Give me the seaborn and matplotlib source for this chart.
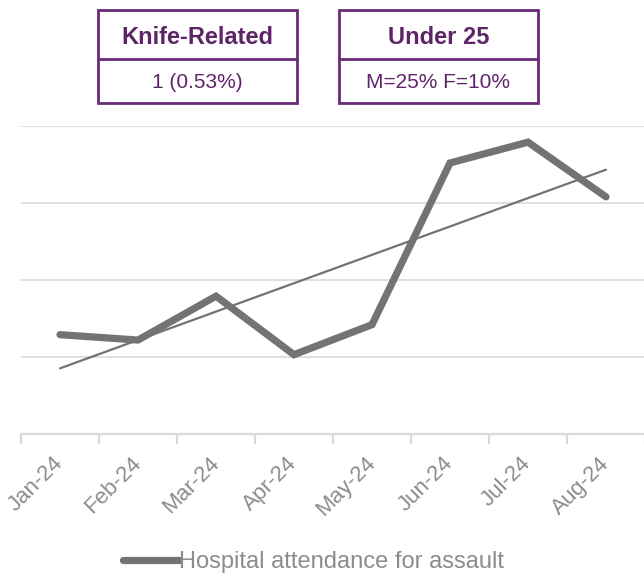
import matplotlib.pyplot as plt
import numpy as np
import pandas as pd
import seaborn as sns
from matplotlib.patches import Rectangle
from matplotlib.lines import Line2D

months = ["Jan-24", "Feb-24", "Mar-24", "Apr-24", "May-24", "Jun-24", "Jul-24", "Aug-24"]
attendance = [12.9, 12.2, 17.9, 10.3, 14.2, 35.2, 37.9, 30.8]
box_titles = ["Knife-Related", "Under 25"]
box_values = ["1 (0.53%)", "M=25% F=10%"]

df = pd.DataFrame({"pos": np.arange(len(months)), "month": months, "value": attendance})

sns.set_style("white")
plt.rcParams["font.family"] = ["Liberation Sans", "DejaVu Sans"]

W, H = 644, 577
fig = plt.figure(figsize=(W / 100, H / 100), dpi=100)
ax = fig.add_axes([21 / W, (H - 434) / H, 624 / W, (434 - 126) / H])

line_col = "#737373"
grid_col = "#d9d9d9"
purple = "#6b2a78"

sns.lineplot(data=df, x="pos", y="value", ax=ax, color=line_col, lw=5.2,
             solid_capstyle="round", solid_joinstyle="miter")
sns.regplot(data=df, x="pos", y="value", ax=ax, scatter=False, ci=None,
            line_kws={"color": line_col, "lw": 1.6})

ax.set_xlim(-0.5, len(months) - 0.5)
ax.set_ylim(0, 40)
ax.set_yticks([10, 20, 30, 40])
ax.yaxis.grid(True, color=grid_col, lw=1.2)
ax.set_yticklabels([])
ax.tick_params(axis="y", length=0)
for s in ["top", "right", "left"]:
    ax.spines[s].set_visible(False)
ax.spines["bottom"].set_color(grid_col)
ax.spines["bottom"].set_linewidth(1.6)
ax.set_axisbelow(True)

ax.set_xticks(df["pos"])
ax.set_xticklabels(months, rotation=45, ha="right", va="center",
                   rotation_mode="anchor", color="#8c8c8c", fontsize=16)
ax.set_xticks(np.arange(-0.5, len(months)), minor=True)
ax.tick_params(axis="x", which="major", length=0, pad=19)
ax.tick_params(axis="x", which="minor", bottom=True, length=7, width=1.6,
               color=grid_col, direction="out")
ax.set_xlabel("")
ax.set_ylabel("")

# legend
handle = Line2D([], [], color=line_col, lw=5.2, solid_capstyle="round")
fig.legend([handle], ["Hospital attendance for assault"], loc="center",
           bbox_to_anchor=(0.487, 1 - 562 / H), frameon=False,
           handlelength=2.4, handletextpad=0.0, fontsize=17,
           labelcolor="#8c8c8c")

# info boxes
box_left = [98, 339]
bw, top, mid, bot = 199, 10, 59, 103
for bx, t, v in zip(box_left, box_titles, box_values):
    fig.add_artist(Rectangle((bx / W, 1 - bot / H), bw / W, (bot - top) / H,
                             transform=fig.transFigure, fill=False,
                             ec=purple, lw=2))
    fig.add_artist(Line2D([bx / W, (bx + bw) / W], [1 - mid / H, 1 - mid / H],
                          transform=fig.transFigure, color=purple, lw=2))
    fig.text((bx + bw / 2) / W, 1 - 37 / H, t, ha="center", va="center",
             fontsize=17, fontweight="bold", color="#5e2468")
    fig.text((bx + bw / 2) / W, 1 - 82 / H, v, ha="center", va="center",
             fontsize=15, color="#5e2468")

fig.savefig("out.png", dpi=100)
